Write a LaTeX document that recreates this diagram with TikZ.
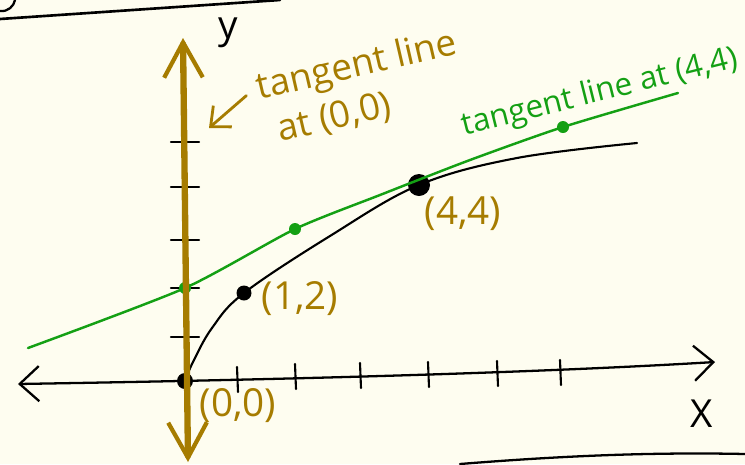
\documentclass[tikz,border=0pt]{standalone}
\usepackage{fontspec}
\setmainfont{Open Sans}
\usetikzlibrary{arrows.meta}
\definecolor{paper}{HTML}{FEFDF0}
\definecolor{pengold}{HTML}{A67C00}
\definecolor{pengreen}{HTML}{14A014}

\begin{document}
\begin{tikzpicture}[
  x=0.02cm, y=-0.02cm, line cap=round, line join=round,
  ink/.style={draw=black, line width=1.3pt},
  xaxis/.style={ink, {Straight Barb[length=11pt,width=20pt]}-{Straight Barb[length=11pt,width=20pt]}},
  yaxis/.style={draw=pengold, line width=3.6pt,
                {Straight Barb[length=20pt,width=22pt,line width=2.4pt]}-{Straight Barb[length=20pt,width=22pt,line width=2.4pt]}},
  tick/.style={ink, line width=1.2pt},
  dot/.style={circle, fill=black, inner sep=0pt},
  gdot/.style={circle, fill=pengreen, inner sep=0pt, minimum size=12*0.02cm},
  curve/.style={ink, line width=1.2pt},
  tanline/.style={draw=pengreen, line width=1.4pt},
  goldarr/.style={draw=pengold, line width=1.6pt, -{Straight Barb[length=9pt,width=16pt]}},
  ptlabel/.style={text=pengold, font=\fontsize{22}{24}\selectfont, inner sep=0pt},
  axlabel/.style={text=black, font=\fontsize{22}{24}\selectfont, inner sep=0pt},
  goldnote/.style={text=pengold, font=\fontsize{21}{26}\selectfont, align=left, rotate=13, inner sep=1pt},
  greennote/.style={text=pengreen, font=\fontsize{18}{20}\selectfont, rotate=14, inner sep=0pt}
]
  \fill[paper] (0,0) rectangle (745,464);
  \useasboundingbox (0,0) rectangle (745,464);

  % edges of the sheet
  \draw[ink, line width=1.5pt] (0,19) -- (280,0);
  \draw[ink] (0,11) .. controls (8,12) and (14,6) .. (15,0);
  \draw[ink] (460,464) .. controls (560,456) and (650,452) .. (745,454);

  % x axis
  \coordinate (xl) at (18,384);
  \coordinate (xr) at (715,362);
  \draw[xaxis] (xl) .. controls (200,381) and (500,375) .. (xr);
  \foreach \tx/\ty in {237/380, 295/377, 360/376, 428/375, 497/374, 560/373}{
    \draw[tick] (\tx,\ty-13) -- (\tx+1,\ty+12);
  }
  \node[axlabel] (xlab) at (702,414) {X};

  % y axis ticks
  \foreach \ty in {142,187,240,288,337}{
    \draw[tick] (171,\ty) -- (199,\ty);
  }
  \node[axlabel] (ylab) at (228,33) {y};

  % points on the curve
  \node[dot, minimum width=16*0.02cm, minimum height=13*0.02cm] (o) at (185,381) {};
  \node[dot, minimum size=15*0.02cm] (p12) at (244,293) {};
  \node[dot, minimum width=20*0.02cm, minimum height=22*0.02cm] (p44) at (419,185) {};
  \coordinate (cend) at (637,143);

  \draw[curve] plot[smooth, tension=0.6] coordinates
    {(o.center) (193,362) (212,328) (p12.center) (330,236) (p44.center) (517,158) (cend)};

  % tangent at (4,4)
  \coordinate (gw) at (28,348);
  \coordinate (ge) at (678,93);
  \node[gdot] (g0) at (185,288) {};
  \node[gdot] (g1) at (295,229) {};
  \node[gdot] (g2) at (563,127) {};
  \draw[tanline] plot[smooth, tension=0.4] coordinates
    {(gw) (g0.center) (g1.center) (380,195) (470,160) (g2.center) (ge)};

  % tangent at (0,0): the y axis
  \coordinate (ytop) at (183,38);
  \coordinate (ybot) at (188,462);
  \draw[yaxis] (ybot) -- (ytop);

  % labels
  \node[ptlabel] (lbl00) at (238,406) {(0,0)};
  \node[ptlabel] (lbl12) at (300,299) {(1,2)};
  \node[ptlabel] (lbl44) at (463,214) {(4,4)};

  \node[goldnote] (note0) at (362,88) {tangent line\\\hspace*{6pt}at (0,0)};
  \coordinate (yhit) at (209,128);
  \draw[goldarr] ([xshift=-8pt,yshift=9pt]note0.west) -- (yhit);

  \node[greennote] (note4) at (600,93) {tangent line at (4,4)};
\end{tikzpicture}
\end{document}
